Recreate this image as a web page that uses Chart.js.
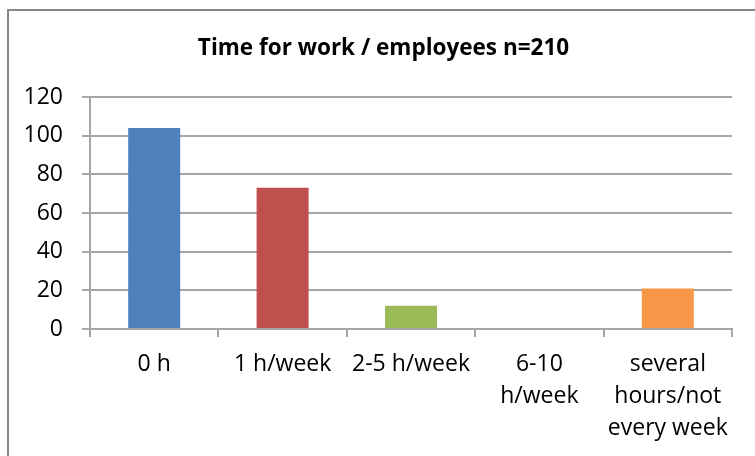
<!DOCTYPE html>
<html>
<head>
<meta charset="utf-8">
<script src="https://cdn.jsdelivr.net/npm/chart.js@4"></script>
<style>
  body { margin: 0; background: #fff; }
  canvas { display: block; }
</style>
</head>
<body>
<canvas id="myChart" width="755" height="456"></canvas>
<script>
// values
const categories = ['0 h', '1 h/week', '2-5 h/week', ['6-10', 'h/week'], ['several', 'hours/not', 'every week']];
const employees = [104, 73, 12, 0, 21];
const barColors = ['#4f81bd', '#c0504d', '#9bbb59', '#8064a2', '#f79646'];

// white page + gray frame, title nudged to the middle of the frame
const frame = {
  id: 'frame',
  afterLayout(chart) {
    if (chart.titleBlock) chart.titleBlock.left = 35;
  },
  beforeDraw(chart) {
    const c = chart.ctx;
    c.save();
    c.fillStyle = '#fff';
    c.fillRect(0, 0, chart.width, chart.height);
    c.strokeStyle = '#888';
    c.lineWidth = 2;
    c.strokeRect(8, 10, chart.width + 20, chart.height + 20);
    c.restore();
  }
};

Chart.defaults.font.family = "'Open Sans', sans-serif";
Chart.defaults.color = '#000';

const ctx = document.getElementById('myChart');
new Chart(ctx, {
  type: 'bar',
  data: {
    labels: categories,
    datasets: [{
      data: employees,
      backgroundColor: barColors,
      categoryPercentage: 1,
      barPercentage: 0.405
    }]
  },
  options: {
    responsive: false,
    animation: false,
    layout: { padding: { left: 17, right: 23, top: 0, bottom: 0 } },
    plugins: {
      legend: { display: false },
      tooltip: { enabled: false },
      title: {
        display: true,
        text: 'Time for work / employees n=210',
        font: { size: 22.5, weight: 'bold' },
        color: '#000',
        padding: { top: 35, bottom: 35 }
      }
    },
    scales: {
      y: {
        min: 0,
        max: 120,
        ticks: { stepSize: 20, font: { size: 23 }, padding: 19, color: '#000' },
        grid: { color: '#a6a6a6', lineWidth: 2, tickLength: 8 },
        border: { color: '#a6a6a6', width: 2 },
        afterFit(scale) { scale.width = 73; }
      },
      x: {
        ticks: { font: { size: 23, lineHeight: 1.38 }, padding: 12, color: '#000', maxRotation: 0, autoSkip: false },
        grid: { drawOnChartArea: false, color: '#a6a6a6', lineWidth: 2, tickLength: 8 },
        border: { color: '#a6a6a6', width: 2 },
        afterFit(scale) { scale.height = 127; }
      }
    }
  },
  plugins: [frame]
});
</script>
</body>
</html>
